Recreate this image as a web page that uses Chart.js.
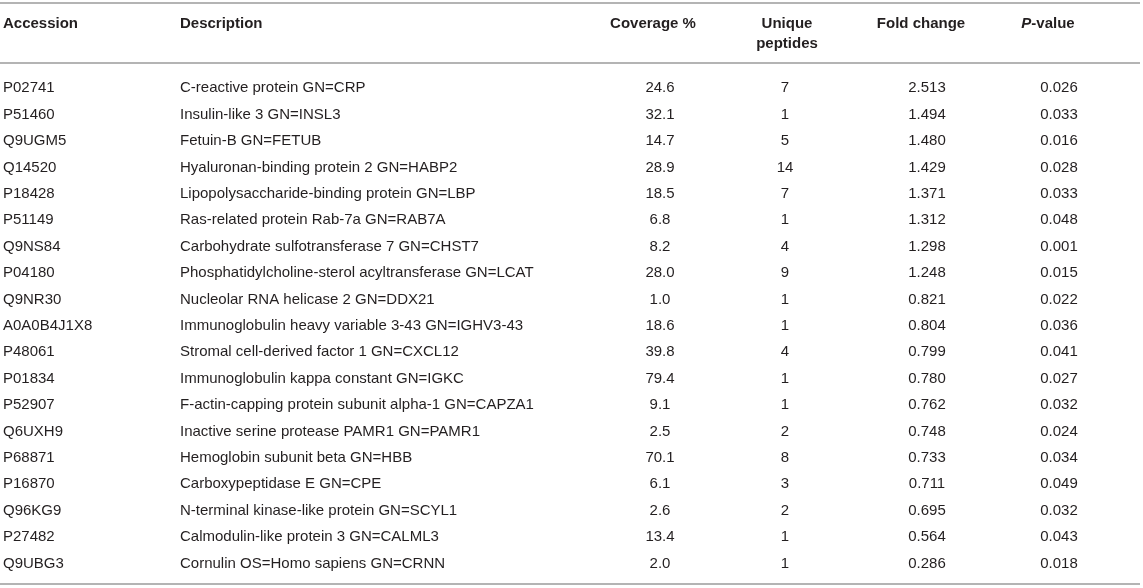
<!DOCTYPE html>
<html>
<head>
<meta charset="utf-8">
<title>Differentially expressed proteins</title>
<script src="https://cdn.jsdelivr.net/npm/chart.js@4"></script>
<style>
  html, body { margin: 0; padding: 0; background: #fff; }
  #wrap { width: 1143px; height: 588px; position: relative; }
</style>
</head>
<body>
<div id="wrap"><canvas id="tableChart"></canvas></div>
<script>
// Table data
const accessions = ['P02741', 'P51460', 'Q9UGM5', 'Q14520', 'P18428', 'P51149', 'Q9NS84', 'P04180',
    'Q9NR30', 'A0A0B4J1X8', 'P48061', 'P01834', 'P52907', 'Q6UXH9', 'P68871', 'P16870',
    'Q96KG9', 'P27482', 'Q9UBG3'];
const descriptions = [
    'C-reactive protein GN=CRP',
    'Insulin-like 3 GN=INSL3',
    'Fetuin-B GN=FETUB',
    'Hyaluronan-binding protein 2 GN=HABP2',
    'Lipopolysaccharide-binding protein GN=LBP',
    'Ras-related protein Rab-7a GN=RAB7A',
    'Carbohydrate sulfotransferase 7 GN=CHST7',
    'Phosphatidylcholine-sterol acyltransferase GN=LCAT',
    'Nucleolar RNA helicase 2 GN=DDX21',
    'Immunoglobulin heavy variable 3-43 GN=IGHV3-43',
    'Stromal cell-derived factor 1 GN=CXCL12',
    'Immunoglobulin kappa constant GN=IGKC',
    'F-actin-capping protein subunit alpha-1 GN=CAPZA1',
    'Inactive serine protease PAMR1 GN=PAMR1',
    'Hemoglobin subunit beta GN=HBB',
    'Carboxypeptidase E GN=CPE',
    'N-terminal kinase-like protein GN=SCYL1',
    'Calmodulin-like protein 3 GN=CALML3',
    'Cornulin OS=Homo sapiens GN=CRNN'
];
const coverage = [24.6, 32.1, 14.7, 28.9, 18.5, 6.8, 8.2, 28.0, 1.0, 18.6, 39.8, 79.4, 9.1, 2.5, 70.1, 6.1, 2.6, 13.4, 2.0];
const uniquePeptides = [7, 1, 5, 14, 7, 1, 4, 9, 1, 1, 4, 1, 1, 2, 8, 3, 2, 1, 1];
const foldChange = [2.513, 1.494, 1.480, 1.429, 1.371, 1.312, 1.298, 1.248, 0.821, 0.804, 0.799, 0.780, 0.762, 0.748, 0.733, 0.711, 0.695, 0.564, 0.286];
const pValues = [0.026, 0.033, 0.016, 0.028, 0.033, 0.048, 0.001, 0.015, 0.022, 0.036, 0.041, 0.027, 0.032, 0.024, 0.034, 0.049, 0.032, 0.043, 0.018];

// Header labels (array = stacked lines)
const headers = [['Accession'], ['Description'], ['Coverage %'], ['Unique', 'peptides'], ['Fold change'], ['P-value']];

// Column layout: x anchor for header / cells and alignment
const columns = [
    { head: 3, cell: 3, align: 'left', fmt: v => v, values: accessions },
    { head: 180, cell: 180, align: 'left', fmt: v => v, values: descriptions },
    { head: 653, cell: 660, align: 'center', fmt: v => v.toFixed(1), values: coverage },
    { head: 787, cell: 785, align: 'center', fmt: v => String(v), values: uniquePeptides },
    { head: 921, cell: 927, align: 'center', fmt: v => v.toFixed(3), values: foldChange },
    { head: 1048, cell: 1059, align: 'center', fmt: v => v.toFixed(3), values: pValues }
];

const FONT = '"Liberation Sans", Arial, Helvetica, sans-serif';
const FONT_PX = 15;
const TEXT_COLOR = '#231f20';
const RULE_COLOR = '#b4b4b4';

// y is in row units: row 0 is the first data row
const ROW_PX = 26.4;
const FIRST_ROW_PX = 87;
const yMin = -FIRST_ROW_PX / ROW_PX;
const yMax = (588 - FIRST_ROW_PX) / ROW_PX;
const headerBaseline = -2.235;
const headerLineGap = 0.76;
const rules = [-3.18, -0.91, 18.83];

// One scatter dataset per column, one point per cell
const datasets = columns.map((col, c) => ({
    label: headers[c].join(' '),
    data: col.values.map((v, r) => ({ x: col.cell, y: r })),
    pointRadius: 0,
    pointHoverRadius: 0,
    showLine: false
}));

const tablePlugin = {
    id: 'tableText',
    afterDatasetsDraw(chart) {
        const ctx = chart.ctx;
        const xs = chart.scales.x;
        const ys = chart.scales.y;
        ctx.save();

        // horizontal rules
        ctx.strokeStyle = RULE_COLOR;
        ctx.lineWidth = 2;
        rules.forEach(r => {
            const y = Math.round(ys.getPixelForValue(r));
            ctx.beginPath();
            ctx.moveTo(xs.getPixelForValue(0), y);
            ctx.lineTo(xs.getPixelForValue(1140), y);
            ctx.stroke();
        });

        ctx.fillStyle = TEXT_COLOR;
        ctx.textBaseline = 'alphabetic';
        const bold = 'bold ' + FONT_PX + 'px ' + FONT;

        // headers
        columns.forEach((col, c) => {
            ctx.textAlign = col.align;
            headers[c].forEach((line, k) => {
                const y = ys.getPixelForValue(headerBaseline + k * headerLineGap);
                const x = xs.getPixelForValue(col.head);
                ctx.font = bold;
                if (line === 'P-value') {
                    // italic P, bold rest
                    const restW = ctx.measureText('-value').width;
                    ctx.font = 'italic ' + bold;
                    const pW = ctx.measureText('P').width;
                    const left = x - (restW + pW) / 2;
                    ctx.textAlign = 'left';
                    ctx.fillText('P', left, y);
                    ctx.font = bold;
                    ctx.fillText('-value', left + pW, y);
                    ctx.textAlign = col.align;
                } else {
                    ctx.fillText(line, x, y);
                }
            });
        });

        // cells
        ctx.font = FONT_PX + 'px ' + FONT;
        chart.data.datasets.forEach((ds, c) => {
            const col = columns[c];
            ctx.textAlign = col.align;
            chart.getDatasetMeta(c).data.forEach((el, r) => {
                ctx.fillText(col.fmt(col.values[r]), el.x, el.y + 5.4);
            });
        });
        ctx.restore();
    }
};

const chart = new Chart(document.getElementById('tableChart'), {
    type: 'scatter',
    data: { datasets: datasets },
    options: {
        responsive: true,
        maintainAspectRatio: false,
        animation: false,
        events: [],
        layout: { padding: 0 },
        plugins: {
            legend: { display: false },
            tooltip: { enabled: false }
        },
        scales: {
            x: { type: 'linear', display: false, min: 0, max: 1143 },
            y: { type: 'linear', display: false, reverse: true, min: yMin, max: yMax }
        }
    },
    plugins: [tablePlugin]
});
</script>
</body>
</html>
